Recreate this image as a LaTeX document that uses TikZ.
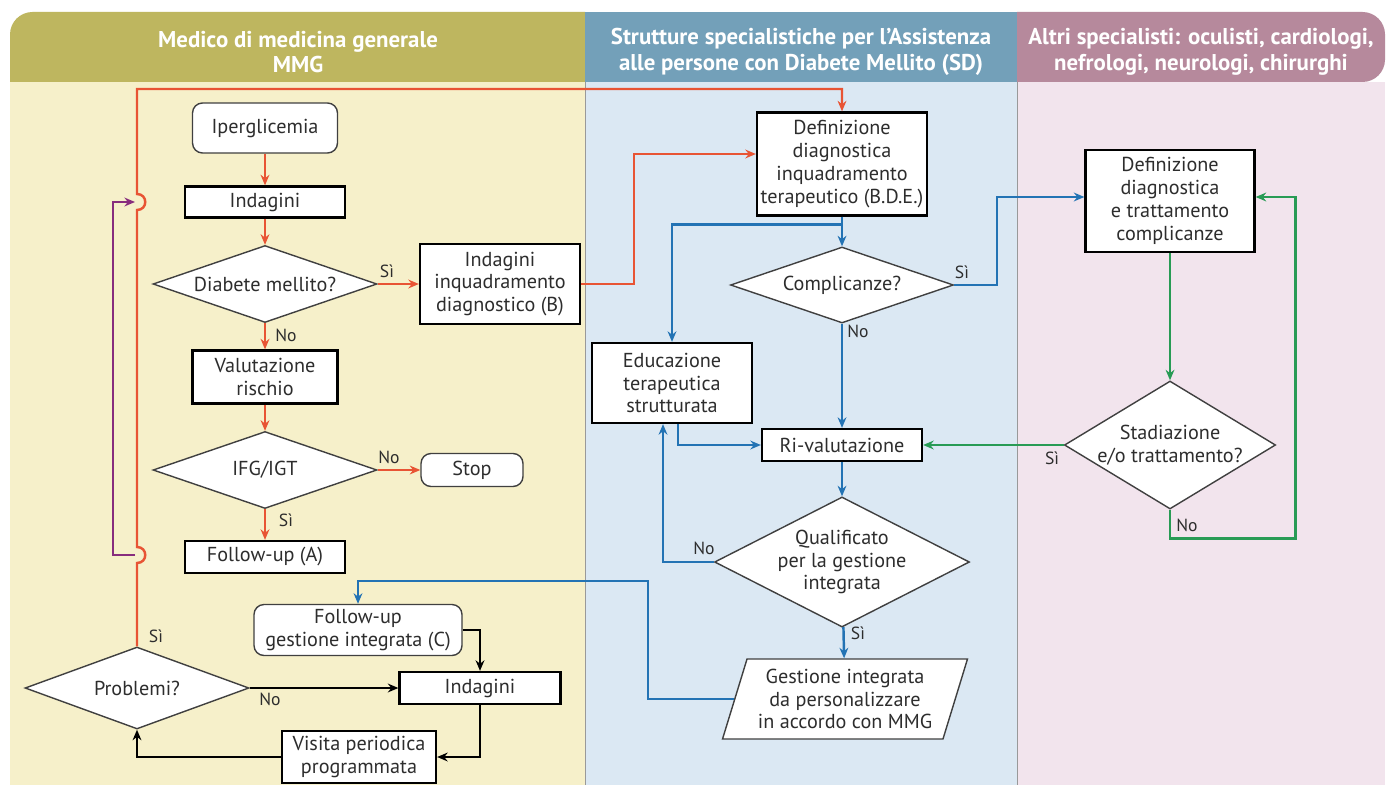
\documentclass[tikz,border=0pt]{standalone}
\usepackage{fontspec}
\setmainfont{PT Sans}
\usetikzlibrary{shapes.geometric,arrows.meta,calc}
\definecolor{hdrL}{RGB}{190,182,95}
\definecolor{bodyL}{RGB}{246,240,202}
\definecolor{hdrM}{RGB}{115,160,185}
\definecolor{bodyM}{RGB}{219,232,243}
\definecolor{hdrR}{RGB}{182,137,156}
\definecolor{bodyR}{RGB}{242,228,237}
\definecolor{orline}{RGB}{232,84,52}
\definecolor{blline}{RGB}{35,115,180}
\definecolor{grline}{RGB}{40,155,85}
\definecolor{puline}{RGB}{135,45,125}
\definecolor{txtgray}{RGB}{45,45,45}
\begin{document}
\begin{tikzpicture}
[x=0.02cm,y=-0.02cm,
font=\fontsize{11.5}{13}\selectfont,
boxnode/.style={rectangle,draw=black,line width=1.3pt,fill=white,align=center,
inner sep=1pt,text=txtgray},
roundnode/.style={rectangle,rounded corners=0.2cm,draw=black!75,line width=0.8pt,
fill=white,align=center,inner sep=1pt,text=txtgray},
decnode/.style={diamond,draw=black!75,line width=0.8pt,fill=white,align=center,
inner sep=0pt,text=txtgray},
gestnode/.style={trapezium,trapezium left angle=69,trapezium right angle=111,
trapezium stretches body,draw=black!75,line width=0.8pt,fill=white,align=center,
inner sep=1pt,text=txtgray},
headtext/.style={align=center,text=white,font=\fontsize{13}{14.5}\selectfont\bfseries},
yn label/.style={inner sep=0pt,text=txtgray,font=\fontsize{10}{11}\selectfont},
flow/.style={line width=1.4pt,-{Stealth[length=6pt,width=5pt]}}
]
\useasboundingbox (0,0) rectangle (1391,787);
\fill[white] (0,0) rectangle (1391,787);
\fill[bodyL] (10,82) rectangle (585,785);
\fill[bodyM] (585,82) rectangle (1017,785);
\fill[bodyR] (1017,82) rectangle (1385,785);
\fill[hdrL] (10,82) {[rounded corners=0.45cm] -- (10,12) -- (300,12)} -- (585,12) -- (585,82) -- cycle;
\fill[hdrM] (585,12) rectangle (1017,82);
\fill[hdrR] (1017,82) -- (1017,12) {[rounded corners=0.45cm] -- (1200,12) -- (1385,12) -- (1385,82)} -- cycle;
\draw[black!40,line width=0.4pt] (585,82) -- (585,785) (1017,82) -- (1017,785);
\node[headtext] (hL) at (298,52) {Medico di medicina generale\\MMG};
\node[headtext] (hM) at (801,52) {Strutture specialistiche per l'Assistenza\\alle persone con Diabete Mellito (SD)};
\node[headtext] (hR) at (1201,52) {Altri specialisti: oculisti, cardiologi,\\nefrologi, neurologi, chirurghi};

\node[roundnode,minimum width=2.9cm,minimum height=1cm] (iper) at (265,128) {Iperglicemia};
\node[boxnode,minimum width=3.2cm,minimum height=0.62cm] (indA) at (265,202) {Indagini};
\node[decnode,shape aspect=2.9,minimum width=4.48cm,minimum height=1.54cm] (diab) at (265,284) {Diabete mellito?};
\node[boxnode,minimum width=3.2cm,minimum height=1.6cm] (indB) at (500,284) {Indagini\\inquadramento\\diagnostico (B)};
\node[boxnode,minimum width=2.9cm,minimum height=1.06cm] (valut) at (265,377) {Valutazione\\rischio};
\node[decnode,shape aspect=2.9,minimum width=4.48cm,minimum height=1.54cm] (ifg) at (265,470) {IFG/IGT};
\node[roundnode,minimum width=2.04cm,minimum height=0.66cm] (stop) at (472,470) {Stop};
\node[boxnode,minimum width=3.2cm,minimum height=0.64cm] (fupA) at (265,557) {Follow-up (A)};
\node[roundnode,minimum width=4.16cm,minimum height=1.02cm] (fupC) at (358,630) {Follow-up\\gestione integrata (C)};
\node[decnode,shape aspect=2.7,minimum width=4.48cm,minimum height=1.64cm] (probl) at (137,688) {Problemi?};
\node[boxnode,minimum width=3.22cm,minimum height=0.64cm] (indC) at (480,688) {Indagini};
\node[boxnode,minimum width=3.08cm,minimum height=1.04cm] (visita) at (359,757) {Visita periodica\\programmata};

\node[boxnode,minimum width=3.4cm,minimum height=2.06cm] (defSD) at (842,164) {Definizione\\diagnostica\\inquadramento\\terapeutico (B.D.E.)};
\node[decnode,shape aspect=2.9,minimum width=4.46cm,minimum height=1.52cm] (compl) at (842,285) {Complicanze?};
\node[boxnode,minimum width=3.2cm,minimum height=1.6cm] (educ) at (672,383) {Educazione\\terapeutica\\strutturata};
\node[boxnode,minimum width=3.2cm,minimum height=0.64cm] (rival) at (842,445) {Ri-valutazione};
\node[decnode,shape aspect=1.96,minimum width=4.98cm,minimum height=2.54cm] (qualif) at (842,562) {Qualificato\\per la gestione\\integrata};
\node[gestnode,minimum width=4.9cm,minimum height=1.6cm] (gest) at (845,699) {Gestione integrata\\da personalizzare\\in accordo con MMG};

\node[boxnode,minimum width=3.38cm,minimum height=2.04cm] (defAS) at (1170,201) {Definizione\\diagnostica\\e trattamento\\complicanze};
\node[decnode,shape aspect=1.65,minimum width=4.16cm,minimum height=2.52cm] (stad) at (1170,445) {Stadiazione\\e/o trattamento?};

\node[yn label] (siA) at (387,271) {Sì};
\node[yn label] (noA) at (286,335) {No};
\node[yn label] (noB) at (389,457) {No};
\node[yn label] (siB) at (286,520) {Sì};
\node[yn label] (siC) at (156,636) {Sì};
\node[yn label] (noC) at (270,699) {No};
\node[yn label] (siD) at (962,272) {Sì};
\node[yn label] (noD) at (858,331) {No};
\node[yn label] (noE) at (704,548) {No};
\node[yn label] (siE) at (858,633) {Sì};
\node[yn label] (siF) at (1052,458) {Sì};
\node[yn label] (noF) at (1187,525) {No};

\coordinate (hopA) at (135,202);
\coordinate (hopB) at (135,555);
\coordinate (gbend) at (648,581);

\draw[flow,orline] (iper) -- (indA);
\draw[flow,orline] (indA) -- (diab);
\draw[flow,orline] (diab) -- (indB);
\draw[flow,orline] (diab) -- (valut);
\draw[flow,orline] (valut) -- (ifg);
\draw[flow,orline] (ifg) -- (stop);
\draw[flow,orline] (ifg) -- (fupA);
\draw[flow,orline] (indB.east) -- ++(53,0) |- ([yshift=0.2cm]defSD.west);
\draw[flow,orline] (probl.north) -- (137,563) .. controls (148,563) and (148,547) .. (137,547)
  -- (137,210) .. controls (148,210) and (148,194) .. (137,194) -- (137,89) -| (defSD.north);
\draw[flow,puline] (hopB) -- (113,555) |- (hopA);

\draw[flow] (fupC.east) -| (indC.north);
\draw[flow] (indC.south) |- (visita.east);
\draw[flow] (visita.west) -| (probl.south);
\draw[flow] (probl.east) -- (indC.west);

\draw[flow,blline] (defSD) -- (compl);
\draw[flow,blline] (defSD.south) -- ++(0,8) -| (educ.north);
\draw[flow,blline] (compl.east) -- ++(43,0) |- ([yshift=0.08cm]defAS.west);
\draw[flow,blline] (compl) -- (rival);
\draw[flow,blline] ([xshift=0.12cm]educ.south) |- (rival.west);
\draw[flow,blline] (rival) -- (qualif);
\draw[flow,blline] (qualif.west) -| ([xshift=-0.18cm]educ.south);
\draw[flow,blline] (qualif) -- (gest);
\draw[flow,blline] (gest.west) -| (gbend) -| (fupC.north);

\draw[flow,grline] (defAS) -- (stad);
\draw[flow,grline] (stad) -- (rival);
\draw[flow,grline] (stad.south) -- ++(0,29) -| ([xshift=0.8cm,yshift=0.08cm]defAS.east) -- ([yshift=0.08cm]defAS.east);
\end{tikzpicture}
\end{document}
